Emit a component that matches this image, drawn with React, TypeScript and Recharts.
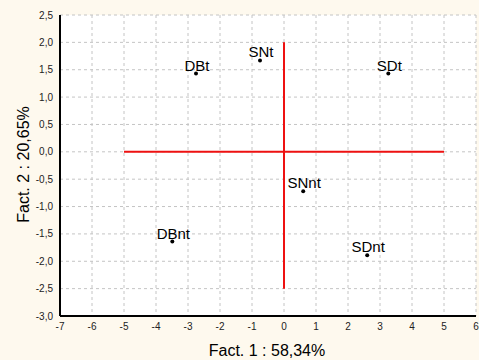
import React from 'react';
import { ScatterChart, Scatter, XAxis, YAxis, CartesianGrid, ReferenceLine, LabelList, Label } from 'recharts';

const pointNames = ['DBt', 'SNt', 'SDt', 'SNnt', 'DBnt', 'SDnt'];
const fact1 = [-2.75, -0.75, 3.26, 0.6, -3.49, 2.6];
const fact2 = [1.43, 1.67, 1.43, -0.72, -1.64, -1.89];

const xTicks = [-7, -6, -5, -4, -3, -2, -1, 0, 1, 2, 3, 4, 5, 6];
const yTicks = [-3, -2.5, -2, -1.5, -1, -0.5, 0, 0.5, 1, 1.5, 2, 2.5];
const xDomain = [-7, 6];
const yDomain = [-3, 2.5];

const hLine = [{ x: -5, y: 0 }, { x: 5, y: 0 }];
const vLine = [{ x: 0, y: -2.5 }, { x: 0, y: 2 }];

const xMinor = Array.from({ length: 53 }, (_, i) => -7 + i * 0.25);
const yMinor = Array.from({ length: 56 }, (_, i) => Math.round((-3 + i * 0.1) * 10) / 10);

const data = pointNames.map((name, i) => ({ name, x: fact1[i], y: fact2[i] }));

const FONT = '"Liberation Sans", Arial, sans-serif';
const BG = '#FEF9EE';

const fmtY = (v: number) => v.toFixed(1).replace('.', ',');

const Dot = (props: any) => <circle cx={props.cx} cy={props.cy} r={2} fill="#000" />;

const PointLabel = (props: any) => {
  const { x, y, width, height, value } = props;
  const cx = x + (width || 0) / 2;
  const cy = y + (height || 0) / 2;
  return (
    <text x={cx + 1} y={cy - 3} textAnchor="middle" fontSize={15} fontFamily={FONT} fill="#000">
      {value}
    </text>
  );
};

const YLabel = (props: any) => {
  const vb = props.viewBox;
  const lx = vb.x + 29;
  const ly = vb.y + vb.height / 2 - 1;
  return (
    <text x={lx} y={ly} transform={`rotate(-90 ${lx} ${ly})`} textAnchor="middle" fontSize={16} fontFamily={FONT} fill="#000">
      Fact. 2 : 20,65%
    </text>
  );
};

const XLabel = (props: any) => {
  const vb = props.viewBox;
  const lx = vb.x + vb.width / 2 - 1;
  const ly = vb.y + 40;
  return (
    <text x={lx} y={ly} textAnchor="middle" fontSize={16} fontFamily={FONT} fill="#000">
      Fact. 1 : 58,34%
    </text>
  );
};

const tickStyle = { fontSize: 10, fontFamily: FONT, fill: '#222' };
const border = { stroke: '#000', strokeWidth: 2 };

export default function App() {
  return (
    <div style={{ position: 'absolute', left: 0, top: 0, width: 479, height: 360, background: BG }}>
      <ScatterChart width={479} height={360} margin={{ top: 15, right: 3, bottom: 0, left: 0 }}>
        <CartesianGrid xAxisId="main" yAxisId="main" fill="#fff" stroke="#c4c4c4" strokeDasharray="3 3" />

        {/* inward tick marks */}
        <XAxis xAxisId="majB" type="number" domain={xDomain} ticks={xTicks} interval={0} orientation="bottom" mirror height={0} tick={false} tickSize={4} axisLine={false} tickLine={{ stroke: '#000' }} allowDataOverflow />
        <XAxis xAxisId="minB" type="number" domain={xDomain} ticks={xMinor} interval={0} orientation="bottom" mirror height={0} tick={false} tickSize={2} axisLine={false} tickLine={{ stroke: '#000' }} allowDataOverflow />
        <XAxis xAxisId="majT" type="number" domain={xDomain} ticks={xTicks} interval={0} orientation="top" mirror height={0} tick={false} tickSize={4} axisLine={border} tickLine={{ stroke: '#000' }} allowDataOverflow />
        <XAxis xAxisId="minT" type="number" domain={xDomain} ticks={xMinor} interval={0} orientation="top" mirror height={0} tick={false} tickSize={2} axisLine={false} tickLine={{ stroke: '#000' }} allowDataOverflow />
        <YAxis yAxisId="majL" type="number" domain={yDomain} ticks={yTicks} interval={0} orientation="left" mirror width={0} tick={false} tickSize={4} axisLine={false} tickLine={{ stroke: '#000' }} allowDataOverflow />
        <YAxis yAxisId="minL" type="number" domain={yDomain} ticks={yMinor} interval={0} orientation="left" mirror width={0} tick={false} tickSize={2} axisLine={false} tickLine={{ stroke: '#000' }} allowDataOverflow />
        <YAxis yAxisId="majR" type="number" domain={yDomain} ticks={yTicks} interval={0} orientation="right" mirror width={0} tick={false} tickSize={4} axisLine={border} tickLine={{ stroke: '#000' }} allowDataOverflow />
        <YAxis yAxisId="minR" type="number" domain={yDomain} ticks={yMinor} interval={0} orientation="right" mirror width={0} tick={false} tickSize={2} axisLine={false} tickLine={{ stroke: '#000' }} allowDataOverflow />

        <XAxis xAxisId="main" dataKey="x" type="number" domain={xDomain} ticks={xTicks} interval={0} height={44} tickSize={0} tickMargin={7} tickLine={false} axisLine={border} tick={tickStyle} allowDataOverflow>
          <Label content={XLabel} />
        </XAxis>
        <YAxis yAxisId="main" dataKey="y" type="number" domain={yDomain} ticks={yTicks} interval={0} width={60} tickSize={0} tickMargin={7} tickLine={false} axisLine={border} tick={tickStyle} tickFormatter={fmtY} allowDataOverflow>
          <Label content={YLabel} />
        </YAxis>

        <ReferenceLine xAxisId="main" yAxisId="main" segment={hLine} stroke="#ee1111" strokeWidth={2} ifOverflow="visible" />
        <ReferenceLine xAxisId="main" yAxisId="main" segment={vLine} stroke="#ee1111" strokeWidth={2} ifOverflow="visible" />

        <Scatter xAxisId="main" yAxisId="main" data={data} shape={Dot} isAnimationActive={false}>
          <LabelList dataKey="name" content={PointLabel} />
        </Scatter>
      </ScatterChart>
    </div>
  );
}
